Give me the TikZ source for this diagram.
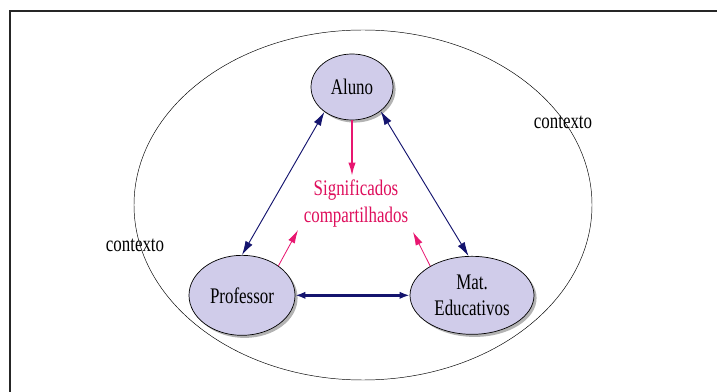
\documentclass[tikz,border=0pt]{standalone}
\usepackage{fontspec}
\setmainfont[FakeStretch=0.76]{Liberation Serif}
\usepackage{tikz}
\usetikzlibrary{positioning,shapes.geometric,shadows,arrows.meta}

\definecolor{navyline}{RGB}{20,20,110}
\definecolor{pinkline}{RGB}{232,22,112}
\definecolor{pinktext}{RGB}{222,14,92}
\definecolor{lavender}{RGB}{208,204,234}

\begin{document}
\begin{tikzpicture}[
font=\fontsize{19}{23}\selectfont,
bubble/.style={ellipse, draw=black, semithick, fill=lavender, inner sep=0pt, align=center, drop shadow={shadow xshift=2.2pt, shadow yshift=-2.2pt, opacity=0.6}},
both_arrow/.style={{Latex[length=4.2mm,width=2.4mm]}-{Latex[length=4.2mm,width=2.4mm]}, navyline, line width=0.8pt},
thick_both_arrow/.style={{Latex[length=3mm,width=2.2mm]}-{Latex[length=3mm,width=2.2mm]}, navyline, line width=2.4pt},
pink_arrow/.style={-{Latex[length=4mm,width=2.2mm]}, pinkline, line width=0.7pt}
]

\useasboundingbox (0,0) rectangle (21.51,-11.76);

% open frame
\draw[line width=1.4pt, black!85] (0.30,-11.76) -- (0.30,-0.33) -- (21.51,-0.33);

% context
\draw[thin] (10.89,-6.15) ellipse [x radius=6.87, y radius=5.25];
\node(context_right) at (16.89,-3.66) {contexto};
\node(context_left) at (4.05,-7.35) {contexto};

\node[bubble, minimum width=24.6mm, minimum height=19.8mm](aluno) at (10.56,-2.61) {Aluno};
\node[bubble, minimum width=31.8mm, minimum height=24mm](professor) at (7.26,-8.86) {Professor};
\node[bubble, minimum width=37.2mm, minimum height=23.4mm](materials) at (14.16,-8.86) {Mat.\\Educativos};

\node[text=pinktext, align=center](meanings) at (10.68,-6.12) {Significados\\compartilhados};

\coordinate(meanings_top) at (10.56,-5.28);
\coordinate(meanings_left) at (8.94,-6.90);
\coordinate(meanings_right) at (12.39,-6.96);

\draw[both_arrow](aluno.222) to [] (professor.90);
\draw[both_arrow](aluno.320) to [] (materials.95);
\draw[thick_both_arrow](professor.0) to [] (materials.180);

\draw[pink_arrow, line width=1.6pt](aluno.south) to [] (meanings_top);
\draw[pink_arrow](professor.39) to [] (meanings_left);
\draw[pink_arrow](materials.145) to [] (meanings_right);
\end{tikzpicture}
\end{document}
